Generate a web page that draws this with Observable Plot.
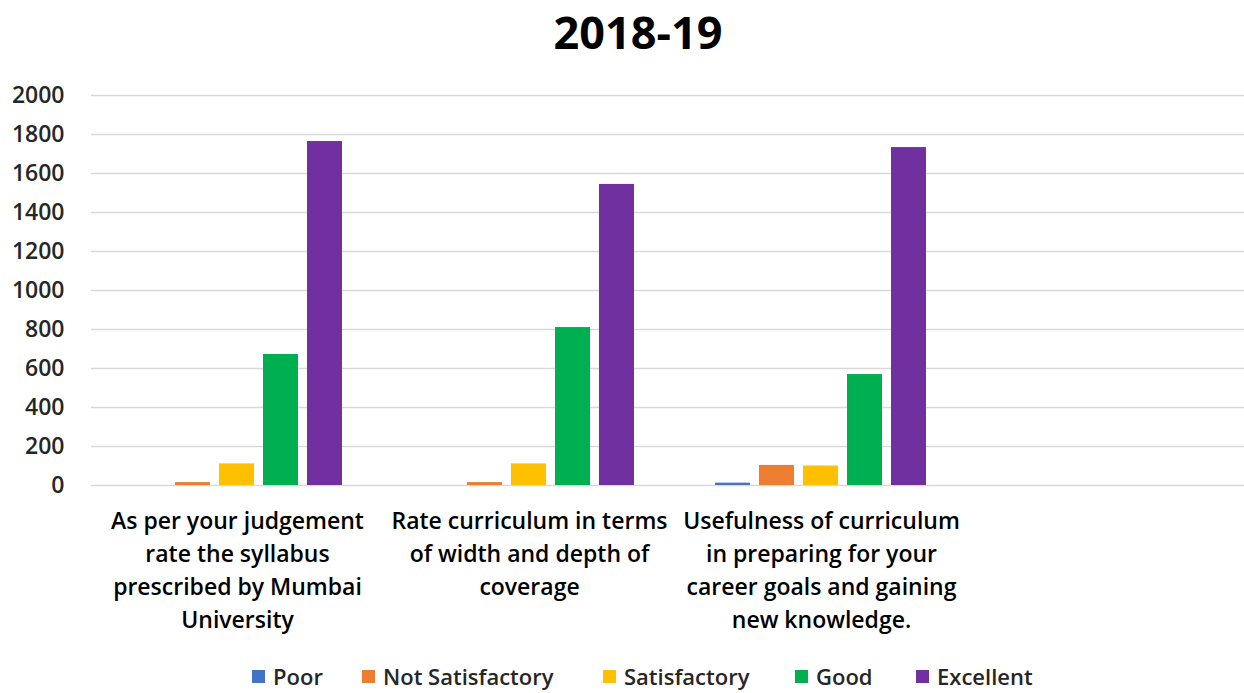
<!DOCTYPE html>
<html>
<head>
<meta charset="utf-8">
<script src="https://cdn.jsdelivr.net/npm/d3@7"></script>
<script src="https://cdn.jsdelivr.net/npm/@observablehq/plot@0.6"></script>
<style>
  html, body { margin: 0; padding: 0; background: #fff; overflow: hidden; width: 1244px; height: 693px; }
  body { font-family: "Open Sans", Lato, sans-serif; color: #262626; position: relative; }
  #title { height: 70px; line-height: 64px; text-align: center; font-size: 45px; font-weight: 700; color: #000; padding-left: 32px; box-sizing: border-box; }
  #chart { width: 1244px; overflow: hidden; }
  #chart svg { display: block; max-width: none !important; }
  #legend { position: absolute; top: 662px; left: 0; width: 1244px; height: 28px; font-size: 22px; font-weight: 600; color: #262626; }
  #legend .item { position: absolute; top: 0; display: flex; align-items: center; white-space: nowrap; line-height: 28px; }
  #legend .sw { width: 13px; height: 13px; margin-right: 8px; }
</style>
</head>
<body>
<div id="title">2018-19</div>
<div id="chart"></div>
<div id="legend"></div>
<script>
const categories = [
  "As per your judgement rate the syllabus prescribed by Mumbai University",
  "Rate curriculum in terms of width and depth of coverage",
  "Usefulness of curriculum in preparing for your career goals and gaining new knowledge.",
  ""
];
const tickLabels = [
  "As per your judgement\nrate the syllabus\nprescribed by Mumbai\nUniversity",
  "Rate curriculum in terms\nof width and depth of\ncoverage",
  "Usefulness of curriculum\nin preparing for your\ncareer goals and gaining\nnew knowledge.",
  ""
];
const series = ["Poor", "Not Satisfactory", "Satisfactory", "Good", "Excellent"];
// the fourth (unlabelled) category is empty in the chart
const poor = [0, 0, 12, 0];
const notSatisfactory = [15, 15, 103, 0];
const satisfactory = [111, 111, 100, 0];
const good = [672, 810, 569, 0];
const excellent = [1764, 1544, 1733, 0];
const colors = ["#4472C4", "#ED7D31", "#FFC000", "#00B050", "#7030A0"];
const yTicks = [0, 200, 400, 600, 800, 1000, 1200, 1400, 1600, 1800, 2000];
const legendX = [252, 362, 603, 795, 916];

const seriesValues = [poor, notSatisfactory, satisfactory, good, excellent];
const data = [];
categories.forEach((c, i) => {
  series.forEach((s, j) => data.push({category: c === "" ? " " : c, series: s, value: seriesValues[j][i]}));
});
const fxDomain = categories.map(c => c === "" ? " " : c);
const labelOf = new Map(fxDomain.map((c, i) => [c, tickLabels[i]]));

const chart = Plot.plot({
  width: 1260,
  height: 595,
  marginLeft: 91,
  marginRight: 1,
  marginTop: 25,
  marginBottom: 180,
  style: {fontFamily: "'Open Sans', Lato, sans-serif", background: "#fff", overflow: "visible"},
  fx: {domain: fxDomain, paddingInner: 0, paddingOuter: 0, label: null},
  x: {domain: series, axis: null, paddingInner: 0.2, paddingOuter: 0.88},
  y: {domain: [0, 2000], axis: null},
  color: {domain: series, range: colors},
  marks: [
    Plot.gridY(yTicks, {stroke: "#d9d9d9", strokeOpacity: 1, strokeWidth: 1.5}),
    Plot.axisY(yTicks, {tickSize: 0, tickPadding: 27, fontSize: 23, fontWeight: 600, fill: "#262626", label: null, tickFormat: d => String(d)}),
    Plot.axisFx({anchor: "bottom", tickSize: 0, tickPadding: 20, fontSize: 23, fontWeight: 600, fill: "#000", label: null, lineHeight: 1.44, tickFormat: d => labelOf.get(d)}),
    Plot.barY(data, {fx: "category", x: "series", y: "value", fill: "series"})
  ]
});
chart.style.maxWidth = "none";
document.getElementById("chart").appendChild(chart);

const legend = document.getElementById("legend");
series.forEach((s, i) => {
  const item = document.createElement("div");
  item.className = "item";
  item.style.left = legendX[i] + "px";
  const sw = document.createElement("div");
  sw.className = "sw";
  sw.style.background = colors[i];
  const t = document.createElement("span");
  t.textContent = s;
  item.appendChild(sw);
  item.appendChild(t);
  legend.appendChild(item);
});
</script>
</body>
</html>
